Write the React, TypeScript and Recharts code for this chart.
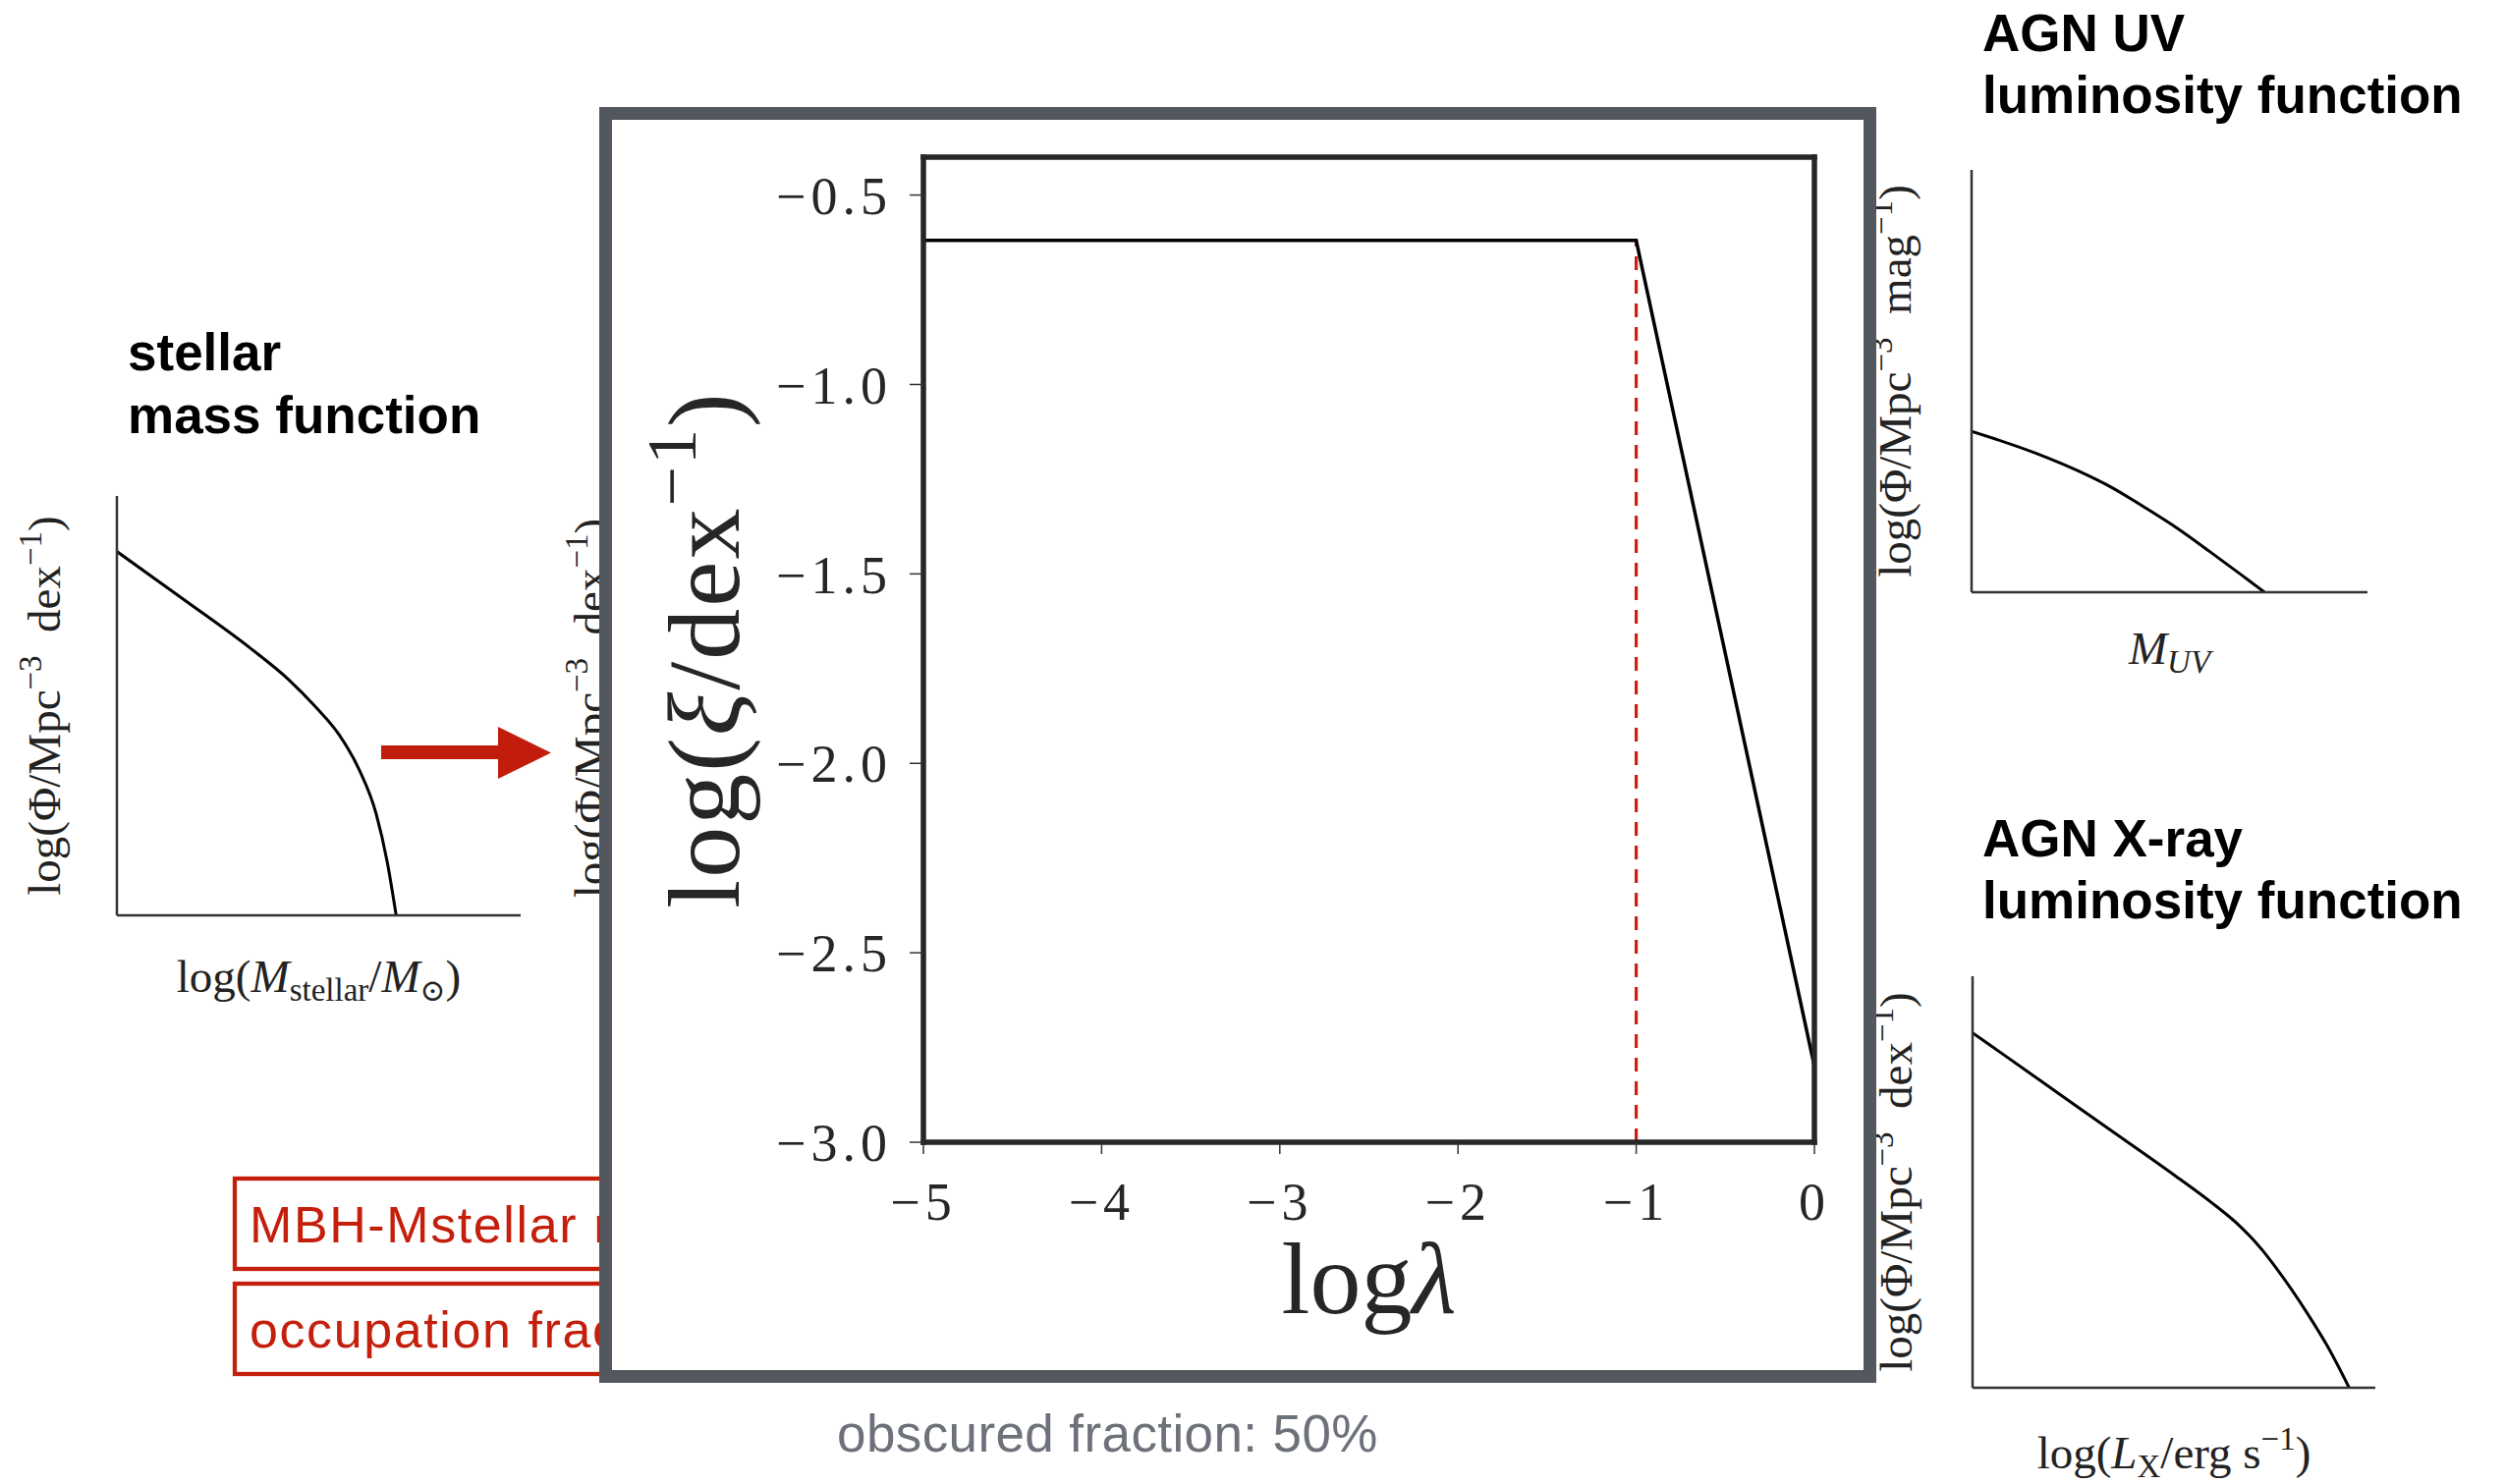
import React from 'react';
import { LineChart, Line, XAxis, YAxis, ReferenceLine, Label } from 'recharts';

// ---------- main panel: Eddington-ratio distribution ----------
const mainLogLambda = [-5, -1, 0];
const mainLogXi = [-0.62, -0.62, -2.8];
const lambdaBreak = -1;
const mainXTicks = [-5, -4, -3, -2, -1, 0];
const mainYTicks = [-3.0, -2.5, -2.0, -1.5, -1.0, -0.5];
const mainXDomain = [-5, 0];
const mainYDomain = [-3, -0.4];

// ---------- small panels (arbitrary units, tick spacing = 1) ----------
const smfX = [0, 1, 2, 2.55, 2.95, 3.3, 3.6, 3.85, 4.02, 4.15];
const smfY = [6.94, 6.02, 5.08, 4.5, 3.98, 3.45, 2.78, 1.95, 1.0, 0];
const uvX = [0, 0.98, 1.63, 2.13, 2.62, 3.12, 3.61, 4.11, 4.44];
const uvY = [3.05, 2.63, 2.29, 1.98, 1.61, 1.21, 0.77, 0.31, 0];
const xrayX = [0, 1, 2, 3, 3.54, 4, 4.32, 4.51, 5, 5.29, 5.61];
const xrayY = [6.9, 5.98, 5.06, 4.14, 3.62, 3.12, 2.67, 2.35, 1.42, 0.8, 0];
const smallXTicks = [0, 1, 2, 3, 4, 5, 6];
const smallYTicks = [0, 1, 2, 3, 4, 5, 6, 7, 8];

// ---------- texts ----------
const titleSMF = ['stellar', 'mass function'];
const titleUV = ['AGN UV', 'luminosity function'];
const titleXR = ['AGN X-ray', 'luminosity function'];
const boxTexts = ['MBH-Mstellar relation', 'occupation fraction'];
const obscuredText = 'obscured fraction: 50%';

const SERIF = "'Liberation Serif', 'DejaVu Serif', serif";
const SANS = "'Liberation Sans', Arial, sans-serif";
const RED = '#c41f0c';
const DARK = '#262626';

const rows = (xs: number[], ys: number[]) => xs.map((x, i) => ({ x, y: ys[i] }));
const minus = (s: string) => s.replace('-', '\u2212');

const LBL = 47;
const SUB = 33;

const PhiLabel = ({ bx, cy, unit }: any) => (
  <text x={bx} y={cy} transform={`rotate(-90 ${bx} ${cy})`} textAnchor="middle" fontFamily={SERIF} fontSize={LBL} fill="#222">
    log(Φ/Mpc
    <tspan fontSize={SUB} dy={-19}>{'\u22123'}</tspan>
    <tspan dy={19}>{'\u2002' + unit}</tspan>
    <tspan fontSize={SUB} dy={-19}>{'\u22121'}</tspan>
    <tspan dy={19}>)</tspan>
  </text>
);

function SmallChart({ plot, data, yUnit, yOff, xOff, xLabel }: any) {
  const padL = 120, padR = 20, padT = 15, padB = 100;
  const yw = 20, xh = 20;
  const axisLine = { stroke: '#333', strokeWidth: 2.5 };
  const tickLine = { stroke: '#333', strokeWidth: 1.5 };
  return (
    <div style={{ position: 'absolute', left: plot.x - padL, top: plot.y - padT }}>
      <LineChart width={plot.w + padL + padR} height={plot.h + padT + padB} data={data}
        margin={{ top: padT, right: padR, left: padL - yw, bottom: padB - xh }}>
        <XAxis type="number" dataKey="x" domain={[0, 6]} ticks={smallXTicks} interval={0} tick={false}
          tickSize={6} height={xh} axisLine={axisLine} tickLine={tickLine} allowDataOverflow>
          <Label content={(p: any) => {
            const vb = p.viewBox;
            return xLabel(vb.x + vb.width / 2, vb.y + xOff);
          }} />
        </XAxis>
        <YAxis type="number" dataKey="y" domain={[0, 8]} ticks={smallYTicks} interval={0} tick={false}
          tickSize={6} width={yw} axisLine={axisLine} tickLine={tickLine} allowDataOverflow>
          <Label content={(p: any) => {
            const vb = p.viewBox;
            return <PhiLabel bx={vb.x + vb.width - yOff} cy={vb.y + vb.height / 2} unit={yUnit} />;
          }} />
        </YAxis>
        <Line type="monotone" dataKey="y" stroke="#000" strokeWidth={3} dot={false} activeDot={false} isAnimationActive={false} />
      </LineChart>
    </div>
  );
}

const smfXLabel = (cx: number, y: number) => (
  <text x={cx} y={y} textAnchor="middle" fontFamily={SERIF} fontSize={LBL} fill="#222">
    log(<tspan fontStyle="italic">M</tspan>
    <tspan fontSize={SUB} dy={9}>stellar</tspan>
    <tspan dy={-9}>/</tspan>
    <tspan fontStyle="italic">M</tspan>
    <tspan fontSize={31} dy={9}>⊙</tspan>
    <tspan dy={-9}>)</tspan>
  </text>
);
const uvXLabel = (cx: number, y: number) => (
  <text x={cx} y={y} textAnchor="middle" fontFamily={SERIF} fontSize={LBL} fill="#222">
    <tspan fontStyle="italic">M</tspan>
    <tspan fontSize={SUB} dy={9} fontStyle="italic">UV</tspan>
  </text>
);
const xrXLabel = (cx: number, y: number) => (
  <text x={cx} y={y} textAnchor="middle" fontFamily={SERIF} fontSize={LBL} fill="#222">
    log(<tspan fontStyle="italic">L</tspan>
    <tspan fontSize={SUB} dy={9}>X</tspan>
    <tspan dy={-9}>/erg s</tspan>
    <tspan fontSize={SUB} dy={-19}>{'\u22121'}</tspan>
    <tspan dy={19}>)</tspan>
  </text>
);

function MainChart() {
  const data = rows(mainLogLambda, mainLogXi);
  const spine = { stroke: DARK, strokeWidth: 5.5, strokeLinecap: 'square' as const };
  const tl = { stroke: '#333', strokeWidth: 1.5 };
  const tickFont = { fontFamily: SERIF, fontSize: 54, fill: DARK, letterSpacing: 5 };
  return (
    <div style={{ position: 'absolute', left: 623, top: 122 }}>
      <LineChart width={1274} height={1273} data={data} margin={{ top: 18, right: 30, left: 167, bottom: 0 }}>
        <XAxis type="number" dataKey="x" domain={mainXDomain} ticks={mainXTicks} interval={0} height={232}
          tickSize={12} tickMargin={29} axisLine={spine} tickLine={tl} tick={tickFont}
          tickFormatter={(v: number) => minus(String(v))} allowDataOverflow>
          <Label content={(p: any) => {
            const vb = p.viewBox;
            return (
              <text x={vb.x + vb.width / 2} y={vb.y + 174} textAnchor="middle" fontFamily={SERIF} fontSize={104} fill={DARK}>
                log<tspan fontStyle="italic">λ</tspan>
              </text>
            );
          }} />
        </XAxis>
        <XAxis xAxisId="t" orientation="top" type="number" dataKey="x" domain={mainXDomain} ticks={mainXTicks}
          interval={0} height={20} tickSize={12} axisLine={spine} tickLine={tl} tick={false} allowDataOverflow />
        <YAxis type="number" dataKey="y" domain={mainYDomain} ticks={mainYTicks} interval={0} width={150}
          tickSize={14} tickMargin={18} axisLine={spine} tickLine={tl} tick={tickFont}
          tickFormatter={(v: number) => minus(v.toFixed(1))} allowDataOverflow>
          <Label content={(p: any) => {
            const vb = p.viewBox;
            const bx = vb.x + vb.width - 188;
            const cy = vb.y + vb.height / 2;
            return (
              <text x={bx} y={cy} transform={`rotate(-90 ${bx} ${cy})`} textAnchor="middle" fontFamily={SERIF}
                fontSize={104} fill={DARK} letterSpacing={2}>
                log(<tspan fontStyle="italic">ξ</tspan>/dex
                <tspan fontSize={72} dy={-44}>{'\u22121'}</tspan>
                <tspan dy={44}>)</tspan>
              </text>
            );
          }} />
        </YAxis>
        <YAxis yAxisId="r" orientation="right" type="number" dataKey="y" domain={mainYDomain} ticks={mainYTicks}
          interval={0} width={20} tickSize={12} axisLine={spine} tickLine={tl} tick={false} allowDataOverflow />
        <ReferenceLine segment={[{ x: lambdaBreak, y: mainYDomain[0] }, { x: lambdaBreak, y: mainLogXi[1] }]}
          stroke="#cc2010" strokeWidth={3.2} strokeDasharray="14 10" ifOverflow="visible" />
        <Line type="linear" dataKey="y" stroke="#000" strokeWidth={3.5} dot={false} activeDot={false} isAnimationActive={false} />
      </LineChart>
    </div>
  );
}

function Background() {
  const title = { fontFamily: SANS, fontWeight: 700, fontSize: 53, fill: '#000' } as any;
  const boxFont = { fontFamily: SANS, fontSize: 52, fill: RED, letterSpacing: 1.6 } as any;
  return (
    <svg width={2550} height={1511} style={{ position: 'absolute', left: 0, top: 0 }}>
      <text x={130} y={377} {...title}>{titleSMF[0]}</text>
      <text x={130} y={441} {...title}>{titleSMF[1]}</text>
      <text x={2018} y={52} {...title}>{titleUV[0]}</text>
      <text x={2018} y={115} {...title}>{titleUV[1]}</text>
      <text x={2018} y={872} {...title}>{titleXR[0]}</text>
      <text x={2018} y={935} {...title}>{titleXR[1]}</text>

      <polygon points="388,759 507,759 507,740 561,766.5 507,793 507,773 388,773" fill="#c21d0c" />

      <PhiLabel bx={617} cy={721} unit="dex" />

      <rect x={239} y={1200} width={700} height={92} fill="#fff" stroke={RED} strokeWidth={4.3} />
      <text x={254} y={1265} {...boxFont}>{boxTexts[0]}</text>
      <rect x={239} y={1307} width={700} height={92} fill="#fff" stroke={RED} strokeWidth={4.3} />
      <text x={254} y={1372} {...boxFont}>{boxTexts[1]}</text>

      <text x={852} y={1478} fontFamily={SANS} fontSize={53} fill="#6d7179" letterSpacing={0.4}>{obscuredText}</text>
    </svg>
  );
}

export default function App() {
  return (
    <div style={{ position: 'absolute', left: 0, top: 0, width: 2550, height: 1511, background: '#fff', overflow: 'hidden' }}>
      <Background />
      <SmallChart plot={{ x: 119, y: 505, w: 411, h: 427 }} data={rows(smfX, smfY)} yUnit="dex" yOff={58} xOff={78} xLabel={smfXLabel} />
      <SmallChart plot={{ x: 2007, y: 173, w: 403, h: 430 }} data={rows(uvX, uvY)} yUnit="mag" yOff={62} xOff={73} xLabel={uvXLabel} />
      <SmallChart plot={{ x: 2008, y: 994, w: 410, h: 419 }} data={rows(xrayX, xrayY)} yUnit="dex" yOff={62} xOff={82} xLabel={xrXLabel} />
      <div style={{ position: 'absolute', left: 610, top: 109, width: 1300, height: 1299, boxSizing: 'border-box',
        border: '13px solid #53575e', background: '#fff' }} />
      <MainChart />
    </div>
  );
}
